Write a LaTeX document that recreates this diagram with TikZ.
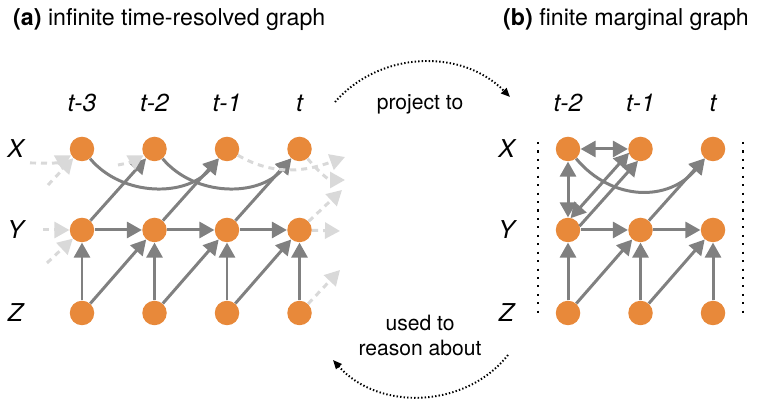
\documentclass[tikz,border=0pt]{standalone}
\usepackage{fontspec}
\setmainfont{TeX Gyre Heros}
\definecolor{nodeorange}{RGB}{232, 137, 58}
\definecolor{edgegray}{RGB}{128, 128, 128}
\definecolor{fadegray}{RGB}{217, 217, 217}
\usetikzlibrary{arrows.meta, calc}

\begin{document}
\begin{tikzpicture}[
  var/.style={circle, fill=nodeorange, minimum size=0.49cm, inner sep=0pt},
  lbl/.style={font=\fontsize{14}{16}\selectfont\itshape},
  head/.style={font=\fontsize{13.2}{15}\selectfont, anchor=base west},
  txt/.style={font=\fontsize{12}{14.2}\selectfont, align=center},
  arr/.style={edgegray, line width=1.7pt, -{Triangle[length=0.3cm, width=0.32cm]}},
  biarr/.style={arr, {Triangle[length=0.3cm, width=0.32cm]}-{Triangle[length=0.3cm, width=0.32cm]}},
  faded/.style={arr, fadegray, dash pattern=on 0.12cm off 0.1cm},
  proj/.style={line width=1.1pt, dash pattern=on 0.8pt off 1.2pt, -{Triangle[length=0.18cm, width=0.15cm]}},
  sep/.style={line width=1.2pt, dash pattern=on 1.2pt off 3.6pt},
]
  \useasboundingbox (0, 0) rectangle (15.16, 8.18);

  % Titles
  \node[head] (ta) at (0.14, 7.66) {\textbf{(a)} infinite time-resolved graph};
  \node[head] (tb) at (9.94, 7.66) {\textbf{(b)} finite marginal graph};

  % (a) time-resolved graph
  \foreach \i/\x/\t in {1/1.64/t-3, 2/3.09/t-2, 3/4.54/t-1, 4/5.99/t} {
    \node[lbl] (ha\i) at (\x, 6.12) {\t};
    \node[var] (ax\i) at (\x, 5.20) {};
    \node[var] (ay\i) at (\x, 3.58) {};
    \node[var] (az\i) at (\x, 1.92) {};
  }
  \node[lbl] (lax) at (0.31, 5.20) {X};
  \node[lbl] (lay) at (0.31, 3.58) {Y};
  \node[lbl] (laz) at (0.31, 1.92) {Z};

  \foreach \i in {1,...,4}
    \draw[arr] (az\i) -- (ay\i);
  \foreach \i/\j in {1/2, 2/3, 3/4} {
    \draw[arr] (ay\i) -- (ay\j);
    \draw[arr] (az\i) -- (ay\j);
    \draw[arr] (ay\i) -- (ax\j);
  }
  \draw[arr] (ax1) to[bend right=50] (ax3);
  \draw[arr] (ax2) to[bend right=50] (ax4);

  % faded edges in and out of the window
  \coordinate (xin) at (0.60, 4.92);
  \coordinate (yxin) at (0.96, 4.48);
  \coordinate (xxin) at (2.36, 4.88);
  \coordinate (yin) at (0.86, 3.58);
  \coordinate (zyin) at (0.94, 2.92);
  \coordinate (xout) at (6.90, 5.04);
  \coordinate (xxout) at (6.90, 4.58);
  \coordinate (yxout) at (6.84, 4.38);
  \coordinate (yout) at (6.80, 3.56);
  \coordinate (zyout) at (6.80, 2.78);
  \draw[faded] (xin) to[out=0, in=-150] (ax1);
  \draw[faded] (yxin) -- (ax1);
  \draw[faded] (xxin) to[out=10, in=-150] (ax2);
  \draw[faded] (yin) -- (ay1);
  \draw[faded] (zyin) -- (ay1);
  \draw[faded] (ax3) to[out=-30, in=-160] (xout);
  \draw[faded] (ax4) to[out=-50, in=180] (xxout);
  \draw[faded] (ay4) -- (yxout);
  \draw[faded] (ay4) -- (yout);
  \draw[faded] (az4) -- (zyout);

  % (b) marginal graph
  \foreach \i/\x/\t in {1/11.36/t-2, 2/12.81/t-1, 3/14.26/t} {
    \node[lbl] (hb\i) at (\x, 6.12) {\t};
    \node[var] (bx\i) at (\x, 5.20) {};
    \node[var] (by\i) at (\x, 3.58) {};
    \node[var] (bz\i) at (\x, 1.92) {};
  }
  \node[lbl] (lbx) at (10.13, 5.20) {X};
  \node[lbl] (lby) at (10.13, 3.58) {Y};
  \node[lbl] (lbz) at (10.13, 1.92) {Z};

  \foreach \i in {1,...,3}
    \draw[arr] (bz\i) -- (by\i);
  \foreach \i/\j in {1/2, 2/3} {
    \draw[arr] (by\i) -- (by\j);
    \draw[arr] (bz\i) -- (by\j);
  }
  \draw[arr] (by2) -- (bx3);
  \draw[arr] (bx1) to[bend right=50, looseness=1.12] (bx3);
  \draw[biarr] (bx1) -- (bx2);
  \draw[biarr] (bx1) -- (by1);

  % two parallel edges between Y(t-2) and X(t-1)
  \coordinate (pas) at ($(by1)!0.12cm!90:(bx2)$);
  \coordinate (pae) at ($(bx2)!0.12cm!-90:(by1)$);
  \coordinate (pbs) at ($(by1)!0.12cm!-90:(bx2)$);
  \coordinate (pbe) at ($(bx2)!0.12cm!90:(by1)$);
  \draw[biarr, shorten <=0.21cm, shorten >=0.21cm] (pas) -- (pae);
  \draw[arr, shorten <=0.21cm, shorten >=0.21cm] (pbs) -- (pbe);

  % window borders
  \coordinate (wlt) at (10.76, 5.34);
  \coordinate (wlb) at (10.76, 1.92);
  \coordinate (wrt) at (14.86, 5.34);
  \coordinate (wrb) at (14.86, 1.92);
  \draw[sep] (wlt) -- (wlb);
  \draw[sep] (wrt) -- (wrb);

  % Projection arrows
  \node[txt] (proj) at (8.40, 6.10) {project to};
  \node[txt] (used) at (8.40, 1.47) {used to\\reason about};
  \coordinate (ps) at (6.70, 6.14);
  \coordinate (pe) at (10.20, 6.24);
  \coordinate (us) at (10.16, 1.08);
  \coordinate (ue) at (6.66, 0.98);
  \draw[proj] (ps) to[bend left=47] (pe);
  \draw[proj] (us) to[bend left=50] (ue);
\end{tikzpicture}
\end{document}
